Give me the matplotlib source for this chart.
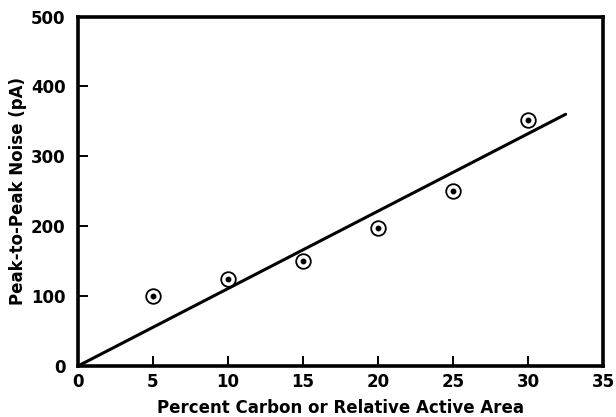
import numpy as np
from matplotlib import pyplot as plt

# 数据：碳含量百分比 与 峰-峰噪声
percent_carbon = [5, 10, 15, 20, 25, 30]
noise_pa = [100, 125, 150, 198, 250, 352]

# 拟合直线（过原点）
fit_x = [0, 32.5]
fit_slope = 11.08

x_ticks = [0, 5, 10, 15, 20, 25, 30, 35]
y_ticks = [0, 100, 200, 300, 400, 500]

plt.rcParams['font.family'] = ['DejaVu Sans']
plt.rcParams['font.weight'] = 'bold'

fig = plt.figure(figsize=(6.16, 4.17), dpi=100)
ax = fig.add_axes([0.1266, 0.1223, 0.8524, 0.8381])

# 拟合直线
fit_y = [fit_slope * x for x in fit_x]
ax.plot(fit_x, fit_y, color='black', linewidth=2.2, solid_capstyle='round', zorder=2)

# 数据点：空心圆 + 中心点
ax.plot(percent_carbon, noise_pa, linestyle='none', marker='o', markersize=10.5,
        markerfacecolor='white', markeredgecolor='black', markeredgewidth=1.3, zorder=3)
ax.plot(percent_carbon, noise_pa, linestyle='none', marker='o', markersize=3.2,
        color='black', zorder=4)

ax.set_xlim(0, 35)
ax.set_ylim(0, 500)
ax.set_xticks(x_ticks)
ax.set_yticks(y_ticks)
ax.tick_params(direction='in', length=7, width=1.4, labelsize=12)
ax.tick_params(axis='y', pad=9)
ax.tick_params(axis='x', pad=5)
for label in ax.get_xticklabels() + ax.get_yticklabels():
    label.set_fontweight('heavy')

for spine in ax.spines.values():
    spine.set_linewidth(2.6)

ax.set_xlabel("Percent Carbon or Relative Active Area", fontsize=12, fontweight='heavy', labelpad=6)
ax.set_ylabel("Peak-to-Peak Noise (pA)", fontsize=12, fontweight='heavy', labelpad=3)

plt.savefig("out.png", dpi=100)
